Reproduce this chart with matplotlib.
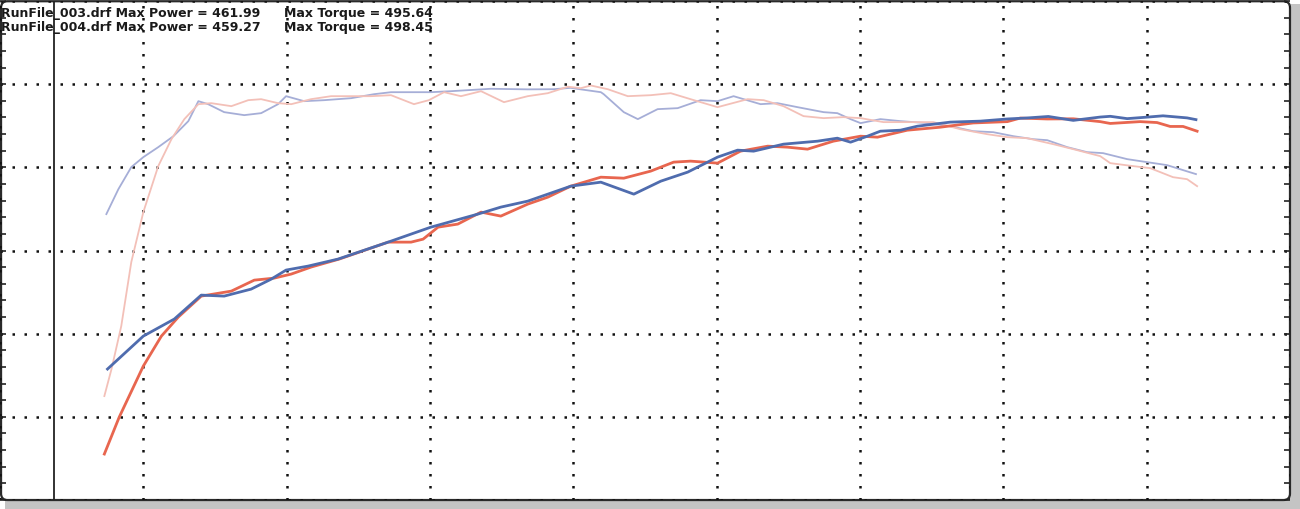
import matplotlib.pyplot as plt
from matplotlib.patches import FancyBboxPatch, Rectangle
from matplotlib.ticker import MultipleLocator

# run 003 (blue) and run 004 (red), power and torque against rpm
rpm_power_003 = [2375, 2500, 2608, 2702, 2782, 2876, 2946, 2998, 3075, 3179,
                 3354, 3503, 3667, 3747, 3841, 3911, 3991, 4096, 4211, 4305,
                 4399, 4503, 4573, 4629, 4733, 4852, 4921, 4967, 5026, 5071,
                 5141, 5200, 5315, 5420, 5514, 5583, 5657, 5744, 5838, 5873,
                 5932, 6005, 6057, 6141, 6172]
power_003 = [157.5, 197.1, 217.6, 246.4, 245.2, 253.6, 265.6, 276.5, 281.3, 289.7,
             310.1, 328.1, 343.8, 352.2, 359.4, 367.8, 377.4, 382.2, 367.8, 383.4,
             394.3, 412.3, 420.7, 419.5, 427.9, 431.5, 435.1, 430.3, 437.5, 443.5,
             444.7, 449.5, 454.4, 455.6, 458.2, 459.4, 461.2, 456.5, 460.5, 461.4,
             458.6, 460.5, 461.99, 459.5, 457.4]

rpm_power_004 = [2364, 2416, 2500, 2563, 2622, 2702, 2807, 2887, 2956, 3016,
                 3085, 3183, 3354, 3434, 3476, 3528, 3597, 3678, 3747, 3841,
                 3911, 3991, 4096, 4176, 4270, 4350, 4409, 4503, 4583, 4678,
                 4747, 4817, 4907, 5002, 5061, 5165, 5280, 5395, 5514, 5559,
                 5653, 5744, 5838, 5873, 5977, 6036, 6082, 6127, 6176]
power_004 = [55.3, 99.8, 161.1, 197.1, 220.0, 245.2, 251.2, 264.4, 266.8, 271.7,
             280.1, 289.7, 310.1, 310.1, 313.7, 328.1, 331.8, 346.2, 341.4, 355.8,
             364.2, 377.4, 388.2, 387.0, 395.5, 406.3, 407.5, 405.1, 419.5, 425.5,
             424.3, 421.9, 431.5, 437.5, 436.3, 444.7, 448.3, 453.4, 455.0, 459.27,
             458.2, 458.4, 455.0, 452.8, 455.0, 453.9, 449.2, 449.2, 443.5]

rpm_torque_003 = [2371, 2413, 2458, 2500, 2552, 2605, 2657, 2692, 2726, 2782,
                  2852, 2911, 2970, 2998, 3061, 3131, 3225, 3305, 3364, 3503,
                  3573, 3712, 3841, 3932, 3991, 4026, 4096, 4106, 4176, 4225,
                  4294, 4364, 4444, 4503, 4559, 4653, 4712, 4782, 4873, 4921,
                  4967, 5002, 5071, 5141, 5235, 5315, 5395, 5465, 5535, 5604,
                  5653, 5723, 5792, 5848, 5932, 6001, 6071, 6127, 6172]
torque_003 = [343.8, 373.8, 400.3, 412.3, 424.3, 437.5, 455.6, 479.6, 476.0, 466.4,
              462.8, 465.2, 476.0, 485.6, 479.6, 480.8, 483.2, 488.0, 490.4, 490.4,
              491.6, 494.5, 493.8, 494.0, 495.64, 493.8, 490.4, 488.0, 466.4, 458.0,
              470.0, 471.2, 480.8, 479.6, 485.6, 476.0, 477.2, 472.4, 466.4, 465.2,
              458.0, 453.2, 458.0, 455.6, 453.2, 449.5, 443.5, 442.3, 437.5, 433.9,
              432.7, 424.3, 418.3, 417.1, 409.9, 406.3, 402.7, 396.7, 391.9]

rpm_torque_004 = [2364, 2389, 2423, 2458, 2500, 2552, 2598, 2643, 2692, 2737,
                  2807, 2866, 2911, 2970, 3016, 3085, 3155, 3225, 3294, 3364,
                  3444, 3496, 3549, 3608, 3678, 3758, 3841, 3911, 3981, 4026,
                  4061, 4120, 4190, 4270, 4340, 4409, 4503, 4608, 4664, 4733,
                  4803, 4873, 4942, 5002, 5082, 5165, 5256, 5350, 5444, 5514,
                  5583, 5674, 5744, 5838, 5873, 5953, 6012, 6092, 6141, 6176]
torque_004 = [125.0, 157.5, 209.1, 286.1, 346.2, 401.5, 433.9, 458.0, 476.0, 477.2,
              473.6, 480.8, 482.0, 477.2, 476.0, 482.0, 485.6, 485.6, 485.6, 486.8,
              476.0, 480.8, 490.4, 485.6, 491.6, 478.4, 485.6, 489.2, 497.0, 495.2,
              498.45, 494.0, 485.6, 486.8, 489.2, 482.0, 472.4, 482.0, 480.8, 473.6,
              461.6, 459.2, 460.4, 459.2, 454.4, 454.4, 454.4, 445.9, 439.9, 436.3,
              435.1, 427.9, 421.9, 413.5, 405.1, 401.5, 399.1, 388.2, 385.8, 377.4]

header_lines = [("RunFile_003.drf Max Power = 461.99", "Max Torque = 495.64"),
                ("RunFile_004.drf Max Power = 459.27", "Max Torque = 498.45")]

rpm_min, rpm_max = 2000, 6500
val_min, val_max = 0, 600
marker_rpm = 2190   # the solid vertical line near the left edge

fig = plt.figure(figsize=(13, 5.1), dpi=100)

# scanned-page shadow and rounded frame, behind the axes
fig.patches.append(Rectangle((0.004, 0.0), 0.996, 0.99, transform=fig.transFigure,
                             facecolor='#c4c4c4', edgecolor='none', zorder=-3))
fig.patches.append(FancyBboxPatch((0.0008, 0.0176), 0.9915, 0.978,
                                  boxstyle='round,pad=0,rounding_size=0.005',
                                  transform=fig.transFigure, facecolor='white',
                                  edgecolor='#2a2a2a', linewidth=1.6, zorder=-2,
                                  mutation_aspect=1300 / 510))

ax = fig.add_axes([0.0, 0.0176, 0.9923, 0.9784])
ax.patch.set_alpha(0)
ax.set_xlim(rpm_min, rpm_max)
ax.set_ylim(val_min, val_max)
for s in ax.spines.values():
    s.set_visible(False)

ax.xaxis.set_major_locator(MultipleLocator(500))
ax.yaxis.set_major_locator(MultipleLocator(100))
ax.yaxis.set_minor_locator(MultipleLocator(20))
ax.grid(True, which='major', color='#111111', linestyle=(0, (1, 3.8)), linewidth=1.8)
ax.tick_params(axis='x', which='both', length=0, labelbottom=False)
ax.tick_params(axis='y', which='both', direction='in', length=4, width=1.2,
               color='#222222', left=True, right=True, labelleft=False)

ax.axvline(marker_rpm, color='#222222', linewidth=1.3)

ax.plot(rpm_torque_003, torque_003, color='#a6aed7', linewidth=1.3,
        solid_joinstyle='round')
ax.plot(rpm_torque_004, torque_004, color='#f3c0b8', linewidth=1.3,
        solid_joinstyle='round')
ax.plot(rpm_power_004, power_004, color='#e8664f', linewidth=2.0,
        solid_joinstyle='round')
ax.plot(rpm_power_003, power_003, color='#4f6cae', linewidth=2.0,
        solid_joinstyle='round')

for i, (left, right) in enumerate(header_lines):
    y = 1 - (17 + 14.5 * i) / 510
    fig.text(0.001, y, left, fontsize=9.0, fontweight='bold', color='#1a1a1a',
             va='baseline', ha='left')
    fig.text(284 / 1300, y, right, fontsize=9.0, fontweight='bold', color='#1a1a1a',
             va='baseline', ha='left')

fig.savefig('out.png', dpi=100)
